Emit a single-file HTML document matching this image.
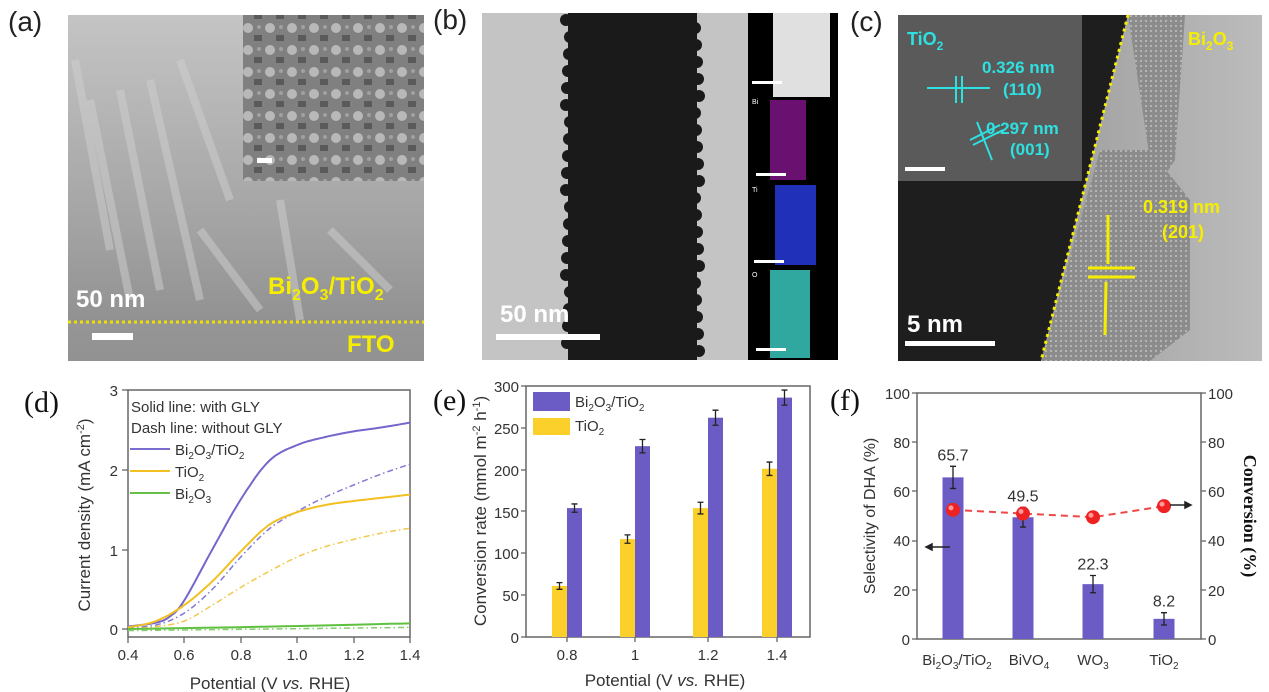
<!DOCTYPE html>
<html><head><meta charset="utf-8"><style>
body{margin:0;background:#fff;width:1269px;height:692px;overflow:hidden;position:relative;font-family:"Liberation Sans",sans-serif}
svg{position:absolute;left:0;top:0}
</style></head><body>
<svg width="1269" height="692" viewBox="0 0 1269 692" xmlns="http://www.w3.org/2000/svg" font-family="Liberation Sans, sans-serif">
<defs>
<linearGradient id="ga" x1="0" y1="0" x2="0" y2="1"><stop offset="0" stop-color="#c4c4c4"/><stop offset="0.6" stop-color="#a4a4a4"/><stop offset="1" stop-color="#8a8a8a"/></linearGradient>
<linearGradient id="gc" x1="0" y1="0" x2="1" y2="0"><stop offset="0" stop-color="#8a8a8a"/><stop offset="1" stop-color="#bcbcbc"/></linearGradient>
<pattern id="lat" width="5" height="5" patternUnits="userSpaceOnUse"><rect width="5" height="5" fill="#8c8c8c"/><rect width="2" height="2" fill="#b4b4b4"/></pattern>
<pattern id="sem" width="22" height="22" patternUnits="userSpaceOnUse"><rect width="22" height="22" fill="#808080"/><circle cx="6" cy="6" r="5" fill="#b8b8b8"/><rect x="12" y="13" width="8" height="6" fill="#5a5a5a"/><circle cx="17" cy="5" r="2" fill="#a0a0a0"/></pattern>
</defs>
<text x="8" y="31" font-size="28" fill="#222">(a)</text>
<text x="433" y="29" font-size="28" fill="#222">(b)</text>
<text x="850" y="31" font-size="28" fill="#222">(c)</text>
<!-- (a) -->
<rect x="68" y="15" width="356" height="346" fill="url(#ga)"/>
<g stroke="#d0d0d0" stroke-width="8" opacity="0.5">
<line x1="90" y1="100" x2="130" y2="300"/><line x1="120" y1="90" x2="160" y2="290"/><line x1="150" y1="80" x2="200" y2="300"/><line x1="200" y1="230" x2="260" y2="310"/><line x1="280" y1="200" x2="300" y2="320"/><line x1="330" y1="230" x2="390" y2="290"/><line x1="75" y1="60" x2="110" y2="250"/><line x1="180" y1="60" x2="230" y2="200"/>
</g>
<rect x="243" y="15" width="181" height="166" fill="url(#sem)"/>
<rect x="257" y="158" width="15" height="5" fill="#fff"/>
<rect x="68" y="322" width="356" height="39" fill="#999" opacity="0.5"/>
<line x1="68" y1="322" x2="424" y2="322" stroke="#f0e000" stroke-width="3" stroke-dasharray="3,3"/>
<rect x="92" y="333" width="41" height="7" fill="#fff"/>
<text x="76" y="307" font-size="24" font-weight="bold" fill="#fff">50 nm</text>
<text x="268" y="294" font-size="24" font-weight="bold" fill="#f5ee00">Bi<tspan font-size="16" dy="6">2</tspan><tspan dy="-6">O</tspan><tspan font-size="16" dy="6">3</tspan><tspan dy="-6">/TiO</tspan><tspan font-size="16" dy="6">2</tspan></text>
<text x="347" y="352" font-size="24" font-weight="bold" fill="#f5ee00">FTO</text>
<!-- (b) -->
<rect x="482" y="13" width="266" height="347" fill="#c4c4c4"/>
<path d="M568 13 L697 13 L697 360 L568 360 Z" fill="#1a1a1a"/>
<g fill="#1a1a1a" id="bumps"></g>
<rect x="748" y="13" width="90" height="347" fill="#000"/>
<rect x="773" y="13" width="57" height="84" fill="#e0e0e0"/>
<rect x="770" y="100" width="36" height="80" fill="#6a1070"/>
<rect x="775" y="185" width="41" height="80" fill="#2030b8"/>
<rect x="770" y="270" width="40" height="88" fill="#30a8a0"/>
<rect x="752" y="81" width="30" height="3" fill="#fff"/><rect x="756" y="173" width="30" height="3" fill="#fff"/><rect x="754" y="260" width="30" height="3" fill="#fff"/><rect x="756" y="348" width="30" height="3" fill="#fff"/>
<text x="752" y="104" font-size="7" fill="#fff">Bi</text><text x="752" y="192" font-size="7" fill="#fff">Ti</text><text x="752" y="277" font-size="7" fill="#fff">O</text>
<rect x="496" y="334" width="104" height="6" fill="#fff"/>
<text x="500" y="322" font-size="24" font-weight="bold" fill="#fff">50 nm</text>
<!-- (c) -->
<rect x="898" y="15" width="364" height="346" fill="url(#gc)"/>
<path d="M898 15 L1128 15 L1041 361 L898 361 Z" fill="#1e1e1e"/>
<path d="M1128 15 L1185 15 L1175 160 L1165 175 L1150 160 Z" fill="url(#lat)"/>
<path d="M1100 150 L1150 150 L1190 200 L1190 330 L1150 361 L1041 361 Z" fill="url(#lat)"/>
<rect x="898" y="15" width="184" height="166" fill="#5a5a5a"/>
<line x1="1128" y1="15" x2="1041" y2="361" stroke="#f5ee00" stroke-width="3" stroke-dasharray="3,4"/>
<rect x="905" y="167" width="40" height="4" fill="#fff"/>
<text x="907" y="45" font-size="18" font-weight="bold" fill="#2ee0e0">TiO<tspan font-size="12" dy="5">2</tspan></text>
<text x="1188" y="45" font-size="18" font-weight="bold" fill="#f5ee00">Bi<tspan font-size="12" dy="5">2</tspan><tspan dy="-5">O</tspan><tspan font-size="12" dy="5">3</tspan></text>
<text x="982" y="73" font-size="17" font-weight="bold" fill="#2ee0e0">0.326 nm</text>
<text x="1003" y="95" font-size="17" font-weight="bold" fill="#2ee0e0">(110)</text>
<text x="986" y="134" font-size="17" font-weight="bold" fill="#2ee0e0">0.297 nm</text>
<text x="1010" y="155" font-size="17" font-weight="bold" fill="#2ee0e0">(001)</text>
<g stroke="#2ee0e0" stroke-width="2"><line x1="927" y1="88" x2="990" y2="88"/><line x1="956" y1="76" x2="956" y2="103"/><line x1="962" y1="76" x2="962" y2="103"/><line x1="970" y1="140" x2="1000" y2="125"/><line x1="973" y1="145" x2="1003" y2="130"/><line x1="977" y1="122" x2="992" y2="160"/></g>
<g stroke="#f5ee00" stroke-width="3"><line x1="1088" y1="268" x2="1135" y2="268"/><line x1="1088" y1="277" x2="1135" y2="277"/><line x1="1108" y1="215" x2="1108" y2="264"/><line x1="1106" y1="282" x2="1105" y2="335"/></g>
<text x="1143" y="213" font-size="18" font-weight="bold" fill="#f5ee00">0.319 nm</text>
<text x="1162" y="238" font-size="18" font-weight="bold" fill="#f5ee00">(201)</text>
<rect x="905" y="341" width="90" height="5" fill="#fff"/>
<text x="907" y="332" font-size="24" font-weight="bold" fill="#fff">5 nm</text>

<text x="24" y="412" font-size="30" font-family="Liberation Serif, serif" fill="#111">(d)</text>
<text x="433" y="410" font-size="30" font-family="Liberation Serif, serif" fill="#111">(e)</text>
<text x="830" y="410" font-size="30" font-family="Liberation Serif, serif" fill="#111">(f)</text>

<!-- (d) -->
<rect x="128" y="390" width="282" height="247" fill="none" stroke="#666" stroke-width="1.5"/>
<g font-size="15" fill="#333" text-anchor="end">
<text x="118" y="396">3</text><text x="118" y="476">2</text><text x="118" y="556">1</text><text x="118" y="635">0</text></g>
<g stroke="#666" stroke-width="1.3"><line x1="122" y1="390" x2="128" y2="390"/><line x1="122" y1="470" x2="128" y2="470"/><line x1="122" y1="550" x2="128" y2="550"/><line x1="122" y1="629" x2="128" y2="629"/>
<line x1="128" y1="637" x2="128" y2="643"/><line x1="184" y1="637" x2="184" y2="643"/><line x1="241" y1="637" x2="241" y2="643"/><line x1="297" y1="637" x2="297" y2="643"/><line x1="354" y1="637" x2="354" y2="643"/><line x1="410" y1="637" x2="410" y2="643"/></g>
<g font-size="15" fill="#333" text-anchor="middle"><text x="128" y="660">0.4</text><text x="184" y="660">0.6</text><text x="241" y="660">0.8</text><text x="297" y="660">1.0</text><text x="354" y="660">1.2</text><text x="410" y="660">1.4</text></g>
<text x="270" y="689" font-size="17" fill="#333" text-anchor="middle">Potential (V <tspan font-style="italic">vs.</tspan> RHE)</text>
<text transform="translate(90,515) rotate(-90)" font-size="17" fill="#333" text-anchor="middle">Current density (mA cm<tspan font-size="11" dy="-6">-2</tspan><tspan dy="6">)</tspan></text>
<g font-size="15" fill="#333"><text x="131" y="412">Solid line: with GLY</text><text x="131" y="433">Dash line: without GLY</text>
<text x="175" y="455">Bi<tspan font-size="10" dy="4">2</tspan><tspan dy="-4">O</tspan><tspan font-size="10" dy="4">3</tspan><tspan dy="-4">/TiO</tspan><tspan font-size="10" dy="4">2</tspan></text>
<text x="175" y="477">TiO<tspan font-size="10" dy="4">2</tspan></text>
<text x="175" y="499">Bi<tspan font-size="10" dy="4">2</tspan><tspan dy="-4">O</tspan><tspan font-size="10" dy="4">3</tspan></text></g>
<line x1="130" y1="449" x2="170" y2="449" stroke="#7a6ed0" stroke-width="2"/>
<line x1="130" y1="471" x2="170" y2="471" stroke="#f2c020" stroke-width="2"/>
<line x1="130" y1="493" x2="170" y2="493" stroke="#66c048" stroke-width="2"/>
<path id="p1" fill="none" stroke="#7366cc" stroke-width="2"/>
<path id="p2" fill="none" stroke="#8478d4" stroke-width="1.5" stroke-dasharray="6,3,1.5,3"/>
<path id="p3" fill="none" stroke="#f2c020" stroke-width="2"/>
<path id="p4" fill="none" stroke="#f2c84a" stroke-width="1.5" stroke-dasharray="6,3,1.5,3"/>
<path id="p5" fill="none" stroke="#5fc040" stroke-width="2"/>
<path id="p6" fill="none" stroke="#88cc70" stroke-width="1.5" stroke-dasharray="6,3,1.5,3"/>

<!-- (e) -->
<rect x="526" y="386" width="284" height="251" fill="none" stroke="#666" stroke-width="1.5"/>
<g font-size="15" fill="#333" text-anchor="end">
<text x="519" y="392">300</text><text x="519" y="434">250</text><text x="519" y="476">200</text><text x="519" y="518">150</text><text x="519" y="559">100</text><text x="519" y="601">50</text><text x="519" y="643">0</text></g>
<g stroke="#666" stroke-width="1.3"><line x1="521" y1="386" x2="526" y2="386"/><line x1="521" y1="428" x2="526" y2="428"/><line x1="521" y1="470" x2="526" y2="470"/><line x1="521" y1="511" x2="526" y2="511"/><line x1="521" y1="553" x2="526" y2="553"/><line x1="521" y1="595" x2="526" y2="595"/><line x1="521" y1="637" x2="526" y2="637"/>
<line x1="567" y1="637" x2="567" y2="642"/><line x1="635" y1="637" x2="635" y2="642"/><line x1="708" y1="637" x2="708" y2="642"/><line x1="777" y1="637" x2="777" y2="642"/></g>
<g font-size="15" fill="#333" text-anchor="middle"><text x="567" y="660">0.8</text><text x="635" y="660">1</text><text x="708" y="660">1.2</text><text x="777" y="660">1.4</text></g>
<text x="665" y="686" font-size="17" fill="#333" text-anchor="middle">Potential (V <tspan font-style="italic">vs.</tspan> RHE)</text>
<text transform="translate(486,511) rotate(-90)" font-size="17" fill="#333" text-anchor="middle">Conversion rate (mmol m<tspan font-size="11" dy="-6">-2</tspan><tspan dy="6"> h</tspan><tspan font-size="11" dy="-6">-1</tspan><tspan dy="6">)</tspan></text>
<rect x="533" y="392" width="37" height="19" fill="#6a5cc4"/><rect x="533" y="418" width="37" height="17" fill="#fcd02a"/>
<g font-size="15" fill="#333"><text x="575" y="407">Bi<tspan font-size="10" dy="4">2</tspan><tspan dy="-4">O</tspan><tspan font-size="10" dy="4">3</tspan><tspan dy="-4">/TiO</tspan><tspan font-size="10" dy="4">2</tspan></text><text x="575" y="431">TiO<tspan font-size="10" dy="4">2</tspan></text></g>
<g id="ebars"></g>

<!-- (f) -->
<rect x="917" y="393" width="284" height="246" fill="none" stroke="#666" stroke-width="1.5"/>
<g font-size="15" fill="#333" text-anchor="end">
<text x="910" y="399">100</text><text x="910" y="448">80</text><text x="910" y="497">60</text><text x="910" y="546">40</text><text x="910" y="596">20</text><text x="910" y="645">0</text></g>
<g font-size="15" fill="#333"><text x="1208" y="399">100</text><text x="1208" y="448">80</text><text x="1208" y="497">60</text><text x="1208" y="546">40</text><text x="1208" y="596">20</text><text x="1208" y="645">0</text></g>
<g stroke="#666" stroke-width="1.3"><line x1="912" y1="393" x2="917" y2="393"/><line x1="912" y1="442" x2="917" y2="442"/><line x1="912" y1="491" x2="917" y2="491"/><line x1="912" y1="541" x2="917" y2="541"/><line x1="912" y1="590" x2="917" y2="590"/><line x1="912" y1="639" x2="917" y2="639"/>
<line x1="1201" y1="393" x2="1206" y2="393"/><line x1="1201" y1="442" x2="1206" y2="442"/><line x1="1201" y1="491" x2="1206" y2="491"/><line x1="1201" y1="541" x2="1206" y2="541"/><line x1="1201" y1="590" x2="1206" y2="590"/><line x1="1201" y1="639" x2="1206" y2="639"/></g>
<g font-size="15" fill="#333" text-anchor="middle"><text x="957" y="665">Bi<tspan font-size="10" dy="4">2</tspan><tspan dy="-4">O</tspan><tspan font-size="10" dy="4">3</tspan><tspan dy="-4">/TiO</tspan><tspan font-size="10" dy="4">2</tspan></text><text x="1029" y="665">BiVO<tspan font-size="10" dy="4">4</tspan></text><text x="1093" y="665">WO<tspan font-size="10" dy="4">3</tspan></text><text x="1164" y="665">TiO<tspan font-size="10" dy="4">2</tspan></text></g>
<text transform="translate(875,516) rotate(-90)" font-size="16" fill="#333" text-anchor="middle">Selectivity of DHA (%)</text>
<text transform="translate(1244,516) rotate(90)" font-size="18" font-weight="bold" font-family="Liberation Serif, serif" fill="#111" text-anchor="middle">Conversion (%)</text>
<g id="fbars"></g>
<g stroke="#222" stroke-width="1.5"><line x1="928" y1="547" x2="950" y2="547"/><path d="M926 547 l6 -3 v6z" fill="#222"/><line x1="1170" y1="505" x2="1188" y2="505"/><path d="M1191 505 l-6 -3 v6z" fill="#222"/></g>
</svg>
<script>
function P(d){return d.map((p,i)=>(i?'L':'M')+(128+(p[0]-0.4)*282).toFixed(1)+' '+(629-p[1]*80).toFixed(1)).join(' ');}
function sm(a){var r=[];for(var i=0;i<a.length-1;i++){for(var t=0;t<1;t+=0.1){var p0=a[Math.max(i-1,0)],p1=a[i],p2=a[i+1],p3=a[Math.min(i+2,a.length-1)];function c(k){return 0.5*((2*p1[k])+(-p0[k]+p2[k])*t+(2*p0[k]-5*p1[k]+4*p2[k]-p3[k])*t*t+(-p0[k]+3*p1[k]-3*p2[k]+p3[k])*t*t*t);}r.push([c(0),c(1)]);}}r.push(a[a.length-1]);return r;}
var S={p1:[[0.4,0.03],[0.5,0.08],[0.55,0.16],[0.6,0.36],[0.7,1.0],[0.8,1.62],[0.9,2.1],[1.0,2.3],[1.1,2.4],[1.2,2.47],[1.3,2.52],[1.4,2.58]],
p2:[[0.4,0.02],[0.5,0.05],[0.6,0.2],[0.7,0.5],[0.8,0.9],[0.9,1.25],[1.0,1.47],[1.1,1.65],[1.2,1.8],[1.3,1.94],[1.4,2.06]],
p3:[[0.4,0.02],[0.5,0.1],[0.6,0.3],[0.7,0.6],[0.8,0.97],[0.9,1.3],[1.0,1.46],[1.1,1.55],[1.2,1.6],[1.3,1.64],[1.4,1.68]],
p4:[[0.4,0],[0.5,0.03],[0.6,0.1],[0.7,0.3],[0.8,0.52],[0.9,0.72],[1.0,0.9],[1.1,1.03],[1.2,1.12],[1.3,1.2],[1.4,1.26]],
p5:[[0.4,0],[0.9,0.03],[1.4,0.07]],p6:[[0.4,-0.02],[1.4,0.02]]};
for(var k in S)document.getElementById(k).setAttribute('d',P(sm(S[k])));
var ns='http://www.w3.org/2000/svg';
function el(g,t,a){var e=document.createElementNS(ns,t);for(var k in a)e.setAttribute(k,a[k]);g.appendChild(e);return e;}
var bu=document.getElementById('bumps');
for(var y=20;y<360;y+=17){el(bu,'circle',{cx:568+((y*7)%5)-2,cy:y,r:6});el(bu,'circle',{cx:697+((y*3)%5)-2,cy:y+8,r:6});}
var eb=document.getElementById('ebars');var cx=[567,635,708,777],Y=[61,117,154,201],Pu=[154,228,262,286],Ey=[4,5,7,8],Ep=[5,8,9,9];
function ey(v){return 637-v*0.837;}
for(var i=0;i<4;i++){el(eb,'rect',{x:cx[i]-15,y:ey(Y[i]),width:15,height:Y[i]*0.837,fill:'#fcd02a'});el(eb,'rect',{x:cx[i],y:ey(Pu[i]),width:15,height:Pu[i]*0.837,fill:'#6a5cc4'});
[[cx[i]-7.5,Y[i],Ey[i]],[cx[i]+7.5,Pu[i],Ep[i]]].forEach(function(q){el(eb,'path',{d:'M'+q[0]+' '+ey(q[1]+q[2])+'V'+ey(q[1]-q[2])+'M'+(q[0]-3)+' '+ey(q[1]+q[2])+'h6M'+(q[0]-3)+' '+ey(q[1]-q[2])+'h6',stroke:'#222','stroke-width':1.3,fill:'none'});});}
var fb=document.getElementById('fbars');var fx=[953,1023,1093,1164],F=[65.7,49.5,22.3,8.2],Fe=[4.5,4,3.5,2.5],C=[52.5,51,49.5,54];
function fy(v){return 639-v*2.46;}
for(var i=0;i<4;i++){el(fb,'rect',{x:fx[i]-10.5,y:fy(F[i]),width:21,height:F[i]*2.46,fill:'#6a5cc4'});
el(fb,'path',{d:'M'+fx[i]+' '+fy(F[i]+Fe[i])+'V'+fy(F[i]-Fe[i])+'M'+(fx[i]-3)+' '+fy(F[i]+Fe[i])+'h6M'+(fx[i]-3)+' '+fy(F[i]-Fe[i])+'h6',stroke:'#222','stroke-width':1.3,fill:'none'});
var t=el(fb,'text',{x:fx[i],y:fy(F[i]+Fe[i])-6,'font-size':16,fill:'#333','text-anchor':'middle'});t.textContent=F[i];}
el(fb,'path',{d:'M'+fx.map(function(x,i){return x+' '+fy(C[i]);}).join(' L'),stroke:'#f04848','stroke-width':2,'stroke-dasharray':'7,5',fill:'none'});
for(var i=0;i<4;i++){el(fb,'circle',{cx:fx[i],cy:fy(C[i]),r:7,fill:'#ee2222'});el(fb,'circle',{cx:fx[i]-2,cy:fy(C[i])-2,r:2.5,fill:'#ff9a9a'});}
</script>
</body></html>
